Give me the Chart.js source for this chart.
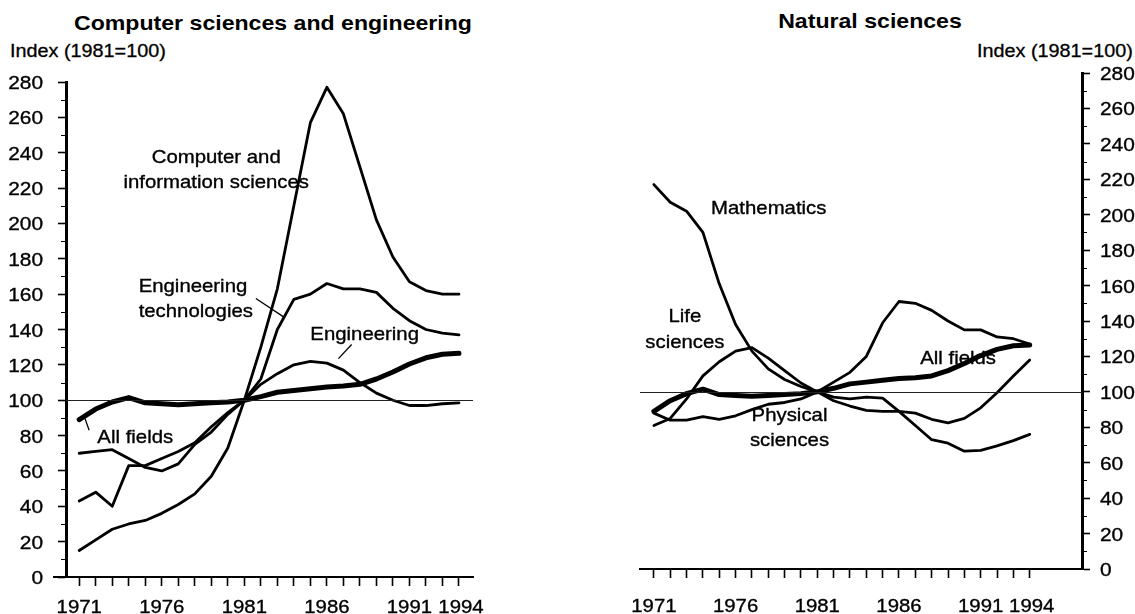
<!DOCTYPE html>
<html>
<head>
<meta charset="utf-8">
<script src="https://cdn.jsdelivr.net/npm/chart.js@4.4.1/dist/chart.umd.min.js"></script>
<style>
  html, body { margin: 0; padding: 0; background: #fff; }
  body { width: 1135px; height: 614px; position: relative; overflow: hidden; font-family: "Liberation Sans", Arial, sans-serif; color: #000; }
  .title { position: absolute; font-weight: bold; font-size: 21px; white-space: nowrap; transform: translateX(-50%) scaleX(1.1); transform-origin: center; }
  .ylab { position: absolute; font-size: 18px; white-space: nowrap; transform: scaleX(1.1); transform-origin: left; -webkit-text-stroke: 0.3px #000; }
  canvas { position: absolute; top: 0; }
</style>
</head>
<body>
<div class="title" style="left:273px; top:11px;">Computer sciences and engineering</div>
<div class="title" style="left:870px; top:9px;">Natural sciences</div>
<div class="ylab" style="left:10px; top:41px;">Index (1981=100)</div>
<div class="ylab" style="left:977px; top:41px;">Index (1981=100)</div>
<canvas id="left" width="560" height="614" style="left:0;width:560px;height:614px;"></canvas>
<canvas id="right" width="575" height="614" style="left:560px;width:575px;height:614px;"></canvas>
<script>
// ---- data ----
const years = [1971,1972,1973,1974,1975,1976,1977,1978,1979,1980,1981,1982,1983,1984,1985,1986,1987,1988,1989,1990,1991,1992,1993,1994];
const yearLabels = [1971,1976,1981,1986,1991,1994];
const yTicks = [0,20,40,60,80,100,120,140,160,180,200,220,240,260,280];
const yMinorTicks = [10,30,50,70,90,110,130,150,170,190,210,230,250,270];
const baseIndex = 100;

const computerInfo = [15,21,27,30,32,36,41,47,57,73,100,130,163,210,257,277,262,232,202,181,167,162,160,160];
const engineeringTech = [43,48,40,63,63,67,71,76,85,93,100,112,140,157,160,166,163,163,161,152,145,140,138,137];
const engineering = [70,71,72,67,62,60,64,75,82,92,100,109,115,120,122,121,117,110,104,100,97,97,98,98.5];
const allFields = [89,95,99,101.5,98.5,98,97.5,98,98.5,99,100,102,104.5,105.5,106.5,107.5,108,109,112,116,120.5,124,126,126.5];

const mathematics = [217,207,202,190,161,138,123,113,107,103,100,105.5,111,120,139,151,150,146,140,135,135,131,130,127];
const lifeSciences = [81,85,96,109,117,123,125,119,112,105,100,95,92,89.5,89,89,88,84.5,82.5,85,91,99.5,109,118];
const physicalSciences = [88,84,84,86,84.5,86.5,90,93,94,96,100,97,96,97,96.5,89,81,73,71,66.5,67,69.5,72.5,76];

// ---- helpers ----
const FONT = '"Liberation Sans", Arial, sans-serif';
const SX = 1.1;           // horizontal stretch of the scanned lettering
const TICK_PX = 19;
const XTICK_PX = 18.5;
const NOTE_PX = 18.5;
const pts = arr => years.map((y, i) => ({x: y, y: arr[i]}));
function ds(arr, w) {
  return { data: pts(arr), borderColor: '#000', borderWidth: w, pointRadius: 0, tension: 0, fill: false, borderJoinStyle: 'round', borderCapStyle: 'round' };
}
function drawText(ctx, text, x, y, align) {
  ctx.save();
  ctx.translate(x, y);
  ctx.scale(SX, 1);
  ctx.textAlign = align || 'left';
  ctx.fillText(text, 0, 0);
  ctx.strokeText(text, 0, 0);
  ctx.restore();
}

const annotPlugin = {
  id: 'annot',
  afterDatasetsDraw(chart, args, opts) {
    const {ctx, scales: {x, y}, chartArea} = chart;
    ctx.save();
    const yb = Math.round(y.getPixelForValue(baseIndex)) + 0.5;
    ctx.strokeStyle = '#222'; ctx.lineWidth = 1;
    ctx.beginPath(); ctx.moveTo(chartArea.left, yb); ctx.lineTo(chartArea.right, yb); ctx.stroke();
    ctx.lineWidth = 1.3; ctx.strokeStyle = '#000';
    (opts.leaders || []).forEach(l => {
      ctx.beginPath();
      ctx.moveTo(x.getPixelForValue(l[0]), y.getPixelForValue(l[1]));
      ctx.lineTo(x.getPixelForValue(l[2]), y.getPixelForValue(l[3]));
      ctx.stroke();
    });
    ctx.fillStyle = '#000'; ctx.strokeStyle = '#000'; ctx.lineWidth = 0.35;
    ctx.font = NOTE_PX + 'px ' + FONT;
    ctx.textBaseline = 'alphabetic';
    (opts.texts || []).forEach(t => drawText(ctx, t.text, x.getPixelForValue(t.x), y.getPixelForValue(t.y), t.align));
    ctx.restore();
  },
  afterDraw(chart, args, opts) {
    const {ctx, scales: {x, y}, chartArea} = chart;
    ctx.save();
    ctx.strokeStyle = '#000';
    if (opts.axisExt) {
      ctx.lineWidth = 2;
      ctx.beginPath();
      ctx.moveTo(chartArea.left - opts.axisExt, chartArea.bottom);
      ctx.lineTo(chartArea.left, chartArea.bottom);
      ctx.stroke();
    }
    // minor y ticks
    ctx.lineWidth = 1;
    yMinorTicks.forEach(v => {
      const py = Math.round(y.getPixelForValue(v)) + 0.5;
      const ax = opts.yLeft ? chartArea.left : chartArea.right;
      const d = opts.yLeft ? -5 : 5;
      ctx.beginPath(); ctx.moveTo(ax, py); ctx.lineTo(ax + d, py); ctx.stroke();
    });
    ctx.fillStyle = '#000'; ctx.lineWidth = 0.35;
    ctx.font = TICK_PX + 'px ' + FONT;
    ctx.textBaseline = 'alphabetic';
    const half = Math.round(TICK_PX * 0.716 / 2);
    yTicks.forEach(v => {
      const py = y.getPixelForValue(v) + half;
      if (opts.yLeft) drawText(ctx, String(v), chartArea.left - opts.yGap, py, 'right');
      else drawText(ctx, String(v), chartArea.right + opts.yGap, py, 'left');
    });
    ctx.font = XTICK_PX + 'px ' + FONT;
    yearLabels.forEach(v => drawText(ctx, String(v), x.getPixelForValue(v) + (v === 1994 ? 2 : 0), chartArea.bottom + opts.xBase, 'center'));
    ctx.restore();
  }
};

function makeChart(id, cfg) {
  const fixW = cfg.yWidth, fixH = cfg.xHeight;
  return new Chart(document.getElementById(id), {
    type: 'line',
    data: { datasets: cfg.datasets },
    options: {
      responsive: false, animation: false,
      layout: { padding: cfg.padding },
      plugins: { legend: {display: false}, tooltip: {enabled: false}, title: {display: false}, annot: cfg.annot },
      scales: {
        x: {
          type: 'linear', min: cfg.xMin, max: cfg.xMax,
          afterBuildTicks: s => { s.ticks = years.map(v => ({value: v})); },
          afterFit: s => { s.height = fixH; s.paddingLeft = 0; s.paddingRight = 0; },
          ticks: { autoSkip: false, maxRotation: 0, padding: 6, color: 'rgba(0,0,0,0)', font: {family: FONT, size: 18},
                   callback: v => yearLabels.includes(v) ? String(v) : '' },
          grid: { drawOnChartArea: false, drawTicks: true, tickLength: 9, tickWidth: 1.6, tickColor: '#000' },
          border: { display: true, color: '#000', width: 2 }
        },
        y: {
          position: cfg.yPos, min: 0, max: 280,
          afterBuildTicks: s => { s.ticks = yTicks.map(v => ({value: v})); },
          afterFit: s => { s.width = fixW; s.paddingTop = 0; s.paddingBottom = 0; },
          ticks: { padding: 10, color: 'rgba(0,0,0,0)', font: {family: FONT, size: 18}, callback: v => String(v) },
          grid: { drawOnChartArea: false, drawTicks: true, tickLength: 8, tickWidth: 1.6, tickColor: '#000' },
          border: { display: true, color: '#000', width: 3 }
        }
      }
    },
    plugins: [annotPlugin]
  });
}

makeChart('left', {
  padding: {left: 0, top: 82, right: 87, bottom: 0},
  yWidth: 66, xHeight: 37, yPos: 'left',
  xMin: 1970.2, xMax: 1994.85,
  datasets: [ds(computerInfo, 2.8), ds(engineeringTech, 2.8), ds(engineering, 2.8), ds(allFields, 5)],
  annot: {
    axisExt: 13, yLeft: true, yGap: 23, xBase: 36,
    texts: [
      {text: 'Computer and', x: 1979.3, y: 234, align: 'center'},
      {text: 'information sciences', x: 1979.3, y: 220, align: 'center'},
      {text: 'Engineering', x: 1974.6, y: 161},
      {text: 'technologies', x: 1974.6, y: 147},
      {text: 'Engineering', x: 1985.0, y: 134},
      {text: 'All fields', x: 1972.1, y: 76}
    ],
    leaders: [
      [1981.7, 157.5, 1983.4, 147],
      [1987.5, 131.5, 1986.7, 123.5],
      [1971.3, 91, 1971.6, 83]
    ]
  }
});

makeChart('right', {
  padding: {left: 80, top: 73, right: 0, bottom: 0},
  yWidth: 53, xHeight: 45, yPos: 'right',
  xMin: 1970.15, xMax: 1997.2,
  datasets: [ds(mathematics, 2.8), ds(lifeSciences, 2.8), ds(physicalSciences, 2.8), ds(allFields, 5)],
  annot: {
    yLeft: false, yGap: 18, xBase: 43,
    texts: [
      {text: 'Mathematics', x: 1974.5, y: 200.5},
      {text: 'Life', x: 1972.9, y: 139.5, align: 'center'},
      {text: 'sciences', x: 1972.9, y: 125, align: 'center'},
      {text: 'All fields', x: 1987.3, y: 116},
      {text: 'Physical', x: 1979.3, y: 83.5, align: 'center'},
      {text: 'sciences', x: 1979.3, y: 69.5, align: 'center'}
    ],
    leaders: []
  }
});
</script>
</body>
</html>
